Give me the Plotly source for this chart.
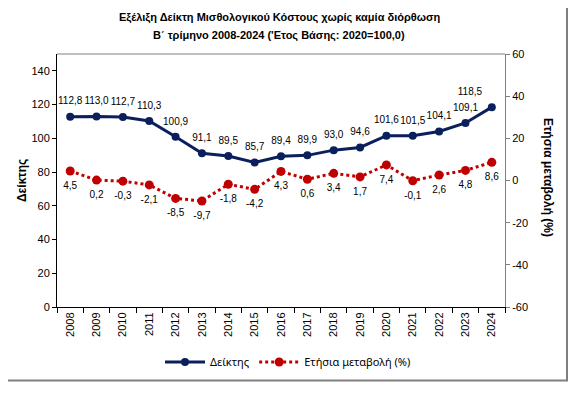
import plotly.graph_objects as go

years = [str(y) for y in range(2008, 2025)]
index_vals = [112.8, 113.0, 112.7, 110.3, 100.9, 91.1, 89.5, 85.7, 89.4, 89.9,
              93.0, 94.6, 101.6, 101.5, 104.1, 109.1, 118.5]
change_vals = [4.5, 0.2, -0.3, -2.1, -8.5, -9.7, -1.8, -4.2, 4.3, 0.6,
               3.4, 1.7, 7.4, -0.1, 2.6, 4.8, 8.6]
y_left_ticks = [0, 20, 40, 60, 80, 100, 120, 140]
y_right_ticks = [-60, -40, -20, 0, 20, 40, 60]

title_l1 = "Εξέλιξη Δείκτη Μισθολογικού Κόστους χωρίς καμία διόρθωση"
title_l2 = "Β΄ τρίμηνο 2008-2024 ('Ετος Βάσης: 2020=100,0)"
name_index = "Δείκτης"
name_change = "Ετήσια μεταβολή (%)"

NAVY = "#0B1F5C"
RED = "#C00000"
TICKFONT = dict(family="Liberation Sans, Arial", size=11, color="#000000")
LABELFONT = dict(family="Liberation Sans, Arial", size=10, color="#000000")
BOLDFONT = "Liberation Sans, Arial"

def fmt(v):
    return f"{v:.1f}".replace(".", ",")

idx_pos = ["top center"] * (len(years) - 1) + ["top left"]

fig = go.Figure()
fig.add_trace(go.Scatter(
    x=years, y=index_vals, name=name_index, mode="lines+markers",
    line=dict(color=NAVY, width=3), marker=dict(color=NAVY, size=8),
))
fig.add_trace(go.Scatter(
    x=years, y=change_vals, name=name_change, mode="lines+markers",
    line=dict(color=RED, width=3, dash="dot"), marker=dict(color=RED, size=9),
    yaxis="y2",
))
# data labels (transparent markers give a little extra spacing)
fig.add_trace(go.Scatter(
    x=years, y=index_vals, mode="markers+text", showlegend=False, hoverinfo="skip",
    marker=dict(size=14, opacity=0), text=[fmt(v) for v in index_vals],
    textposition=idx_pos, textfont=LABELFONT, cliponaxis=False,
))
fig.add_trace(go.Scatter(
    x=years, y=change_vals, mode="markers+text", showlegend=False, hoverinfo="skip",
    marker=dict(size=15, opacity=0), text=[fmt(v) for v in change_vals],
    textposition="bottom center", textfont=LABELFONT, cliponaxis=False, yaxis="y2",
))

# page body has an 8px margin; work in window coordinates and shift
OFF = 8
W, H = 584 - OFF, 393 - OFF
L, R, T, B = 57 - OFF, 505 - OFF, 54 - OFF, 307 - OFF
pw, ph = R - L, B - T

def px(x):
    return (x - OFF - L) / pw

def py(y):
    return (B - (y - OFF)) / ph

fig.update_layout(
    width=W, height=H, autosize=False,
    margin=dict(l=L, r=W - R, t=T, b=H - B, pad=0),
    paper_bgcolor="white", plot_bgcolor="white",
    showlegend=True,
    legend=dict(orientation="h", x=px(288), xanchor="center", y=py(362), yanchor="middle",
                font=dict(family="Noto Sans, Liberation Sans", size=11, color="#000"),
                itemwidth=40, tracegroupgap=0, bgcolor="rgba(0,0,0,0)"),
    xaxis=dict(type="category", tickson="boundaries", ticks="outside", ticklen=5,
               tickcolor="#000", showline=True, linecolor="#000", linewidth=1,
               tickangle=-90, tickfont=TICKFONT, showgrid=False, zeroline=False,
               range=[-0.5, len(years) - 0.5]),
    yaxis=dict(range=[0, 150], tickmode="array", tickvals=y_left_ticks,
               ticktext=[str(v) for v in y_left_ticks], ticks="outside", ticklen=4,
               tickcolor="#000", showline=True, linecolor="#000", linewidth=1,
               tickfont=TICKFONT, showgrid=False, zeroline=False),
    yaxis2=dict(range=[-60, 60], tickmode="array", tickvals=y_right_ticks,
                ticktext=[str(v) for v in y_right_ticks], ticks="outside", ticklen=4,
                tickcolor="#808080", showline=True, linecolor="#808080", linewidth=1,
                overlaying="y", side="right", tickfont=TICKFONT, showgrid=False,
                zeroline=False),
)

# plot area top border in gray
fig.add_shape(type="line", xref="paper", yref="paper", x0=0, x1=1, y0=1, y1=1,
              line=dict(color="#808080", width=1), layer="below")
# outer frame
fig.add_shape(type="rect", xref="paper", yref="paper",
              x0=px(3.5), x1=px(567), y0=py(5), y1=py(380.5),
              line=dict(color="#7F7F7F", width=2), fillcolor="rgba(0,0,0,0)")

fig.add_annotation(xref="paper", yref="paper", x=px(279), y=py(18), text=f"<b>{title_l1}</b>",
                   showarrow=False, font=dict(family=BOLDFONT, size=11, color="#000"),
                   xanchor="center", yanchor="middle")
fig.add_annotation(xref="paper", yref="paper", x=px(279), y=py(36), text=f"<b>{title_l2}</b>",
                   showarrow=False, font=dict(family=BOLDFONT, size=11, color="#000"),
                   xanchor="center", yanchor="middle")
fig.add_annotation(xref="paper", yref="paper", x=px(22), y=py(181), text=f"<b>{name_index}</b>",
                   showarrow=False, textangle=-90, font=dict(family=BOLDFONT, size=12, color="#000"),
                   xanchor="center", yanchor="middle")
fig.add_annotation(xref="paper", yref="paper", x=px(548), y=py(177), text=f"<b>{name_change}</b>",
                   showarrow=False, textangle=90, font=dict(family=BOLDFONT, size=12, color="#000"),
                   xanchor="center", yanchor="middle")

fig.write_html("out.html")
